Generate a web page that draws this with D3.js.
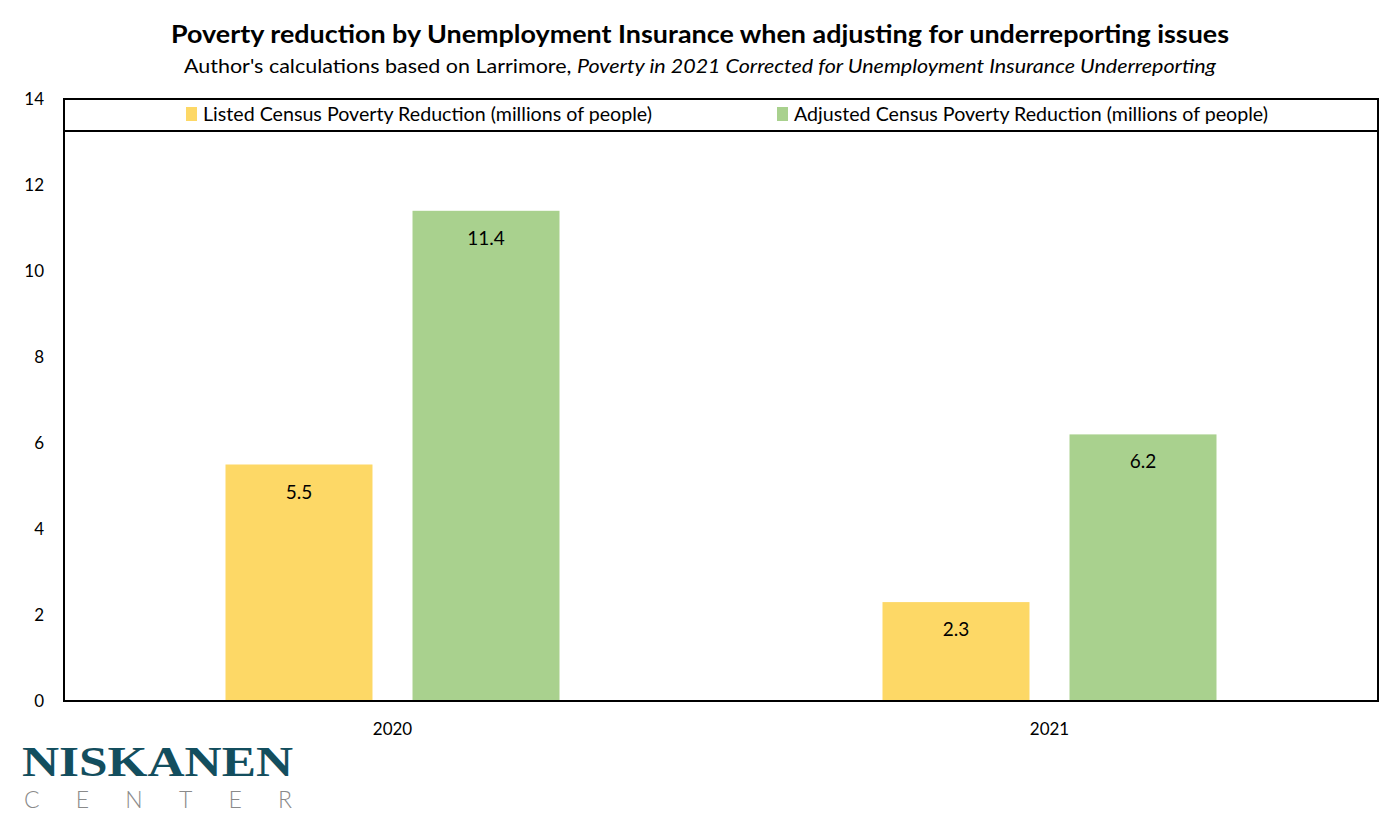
<!DOCTYPE html>
<html><head><meta charset="utf-8">
<script src="https://cdn.jsdelivr.net/npm/d3@7"></script>
<style>body{margin:0;background:#fff}svg{display:block}</style>
</head><body><svg id="c" width="1400" height="830"></svg>
<script>
const categories = ["2020", "2021"];
const seriesNames = ["Listed Census Poverty Reduction (millions of people)", "Adjusted Census Poverty Reduction (millions of people)"];
const listedValues = [5.5, 2.3];
const adjustedValues = [11.4, 6.2];
const yTicks = [0, 2, 4, 6, 8, 10, 12, 14];
const colors = ["#fdd866", "#a9d18e"];

const svg = d3.select("#c").style("font-family", "Lato, 'Open Sans', sans-serif");
const L = 64, R = 1378, T = 99, B = 701;
const y = d3.scaleLinear().domain([0, 14]).range([B, T]);
const x0 = d3.scaleBand().domain(categories).range([L, R]);
const groupW = 334;
const x1 = d3.scaleBand().domain(seriesNames).range([0, groupW]).paddingInner(0.214);
const seriesVals = [listedValues, adjustedValues];

svg.append("text").attr("x", 700).attr("y", 43).attr("text-anchor", "middle")
  .attr("font-size", 25).attr("font-weight", 700)
  .attr("textLength", 1058).attr("lengthAdjust", "spacingAndGlyphs")
  .text("Poverty reduction by Unemployment Insurance when adjusting for underreporting issues");
const sub = svg.append("text").attr("x", 700).attr("y", 73).attr("text-anchor", "middle").attr("font-size", 20)
  .attr("textLength", 1032).attr("lengthAdjust", "spacingAndGlyphs");
sub.append("tspan").text("Author's calculations based on Larrimore, ");
sub.append("tspan").attr("font-style", "italic").text("Poverty in 2021 Corrected for Unemployment Insurance Underreporting");

// bars
categories.forEach((c, i) => {
  const gx = x0(c) + (x0.bandwidth() - groupW) / 2;
  seriesNames.forEach((s, j) => {
    const v = seriesVals[j][i];
    svg.append("rect").attr("x", gx + x1(s)).attr("y", y(v)).attr("width", x1.bandwidth())
      .attr("height", y(0) - y(v)).attr("fill", colors[j]);
    svg.append("text").attr("x", gx + x1(s) + x1.bandwidth() / 2).attr("y", y(v) + 34)
      .attr("text-anchor", "middle").attr("font-size", 19).attr("fill", "#000").text(v.toFixed(1));
  });
});

// frame
svg.append("rect").attr("x", L).attr("y", T).attr("width", R - L).attr("height", B - T)
  .attr("fill", "none").attr("stroke", "#000").attr("stroke-width", 2);
svg.append("line").attr("x1", L).attr("x2", R).attr("y1", 131).attr("y2", 131).attr("stroke", "#000").attr("stroke-width", 2);

// y axis
const ya = svg.append("g").attr("transform", `translate(${L},0)`)
  .call(d3.axisLeft(y).tickValues(yTicks).tickSize(0).tickPadding(20).tickFormat(d3.format("d")));
ya.select(".domain").remove();
ya.selectAll("text").attr("font-size", 17).style("font-family", "Lato, sans-serif").attr("fill", "#000");

// x axis
const xa = svg.append("g").attr("transform", `translate(0,${B})`)
  .call(d3.axisBottom(x0).tickSize(0).tickPadding(22));
xa.select(".domain").remove();
xa.selectAll("text").attr("font-size", 17).style("font-family", "Lato, sans-serif").attr("fill", "#000");

// legend
const legX = [186, 777];
const legW = [449, 474];
seriesNames.forEach((s, j) => {
  svg.append("rect").attr("x", legX[j]).attr("y", 107).attr("width", 11).attr("height", 14).attr("fill", colors[j]);
  svg.append("text").attr("x", legX[j] + 17).attr("y", 121).attr("font-size", 19).attr("fill", "#000")
    .attr("textLength", legW[j]).attr("lengthAdjust", "spacingAndGlyphs").text(s);
});

// logo
svg.append("text").attr("x", 22).attr("y", 776).style("font-family", "'Liberation Serif', 'DejaVu Serif', serif")
  .attr("font-weight", 700).attr("font-size", 42).attr("fill", "#134e5e")
  .attr("textLength", 271).attr("lengthAdjust", "spacingAndGlyphs").text("NISKANEN");
svg.append("text").attr("x", 24).attr("y", 808).style("font-family", "Lato, sans-serif").attr("font-weight", 300)
  .attr("font-size", 23).attr("fill", "#8a8a8a").attr("textLength", 268).attr("lengthAdjust", "spacing").text("CENTER");
</script></body></html>
